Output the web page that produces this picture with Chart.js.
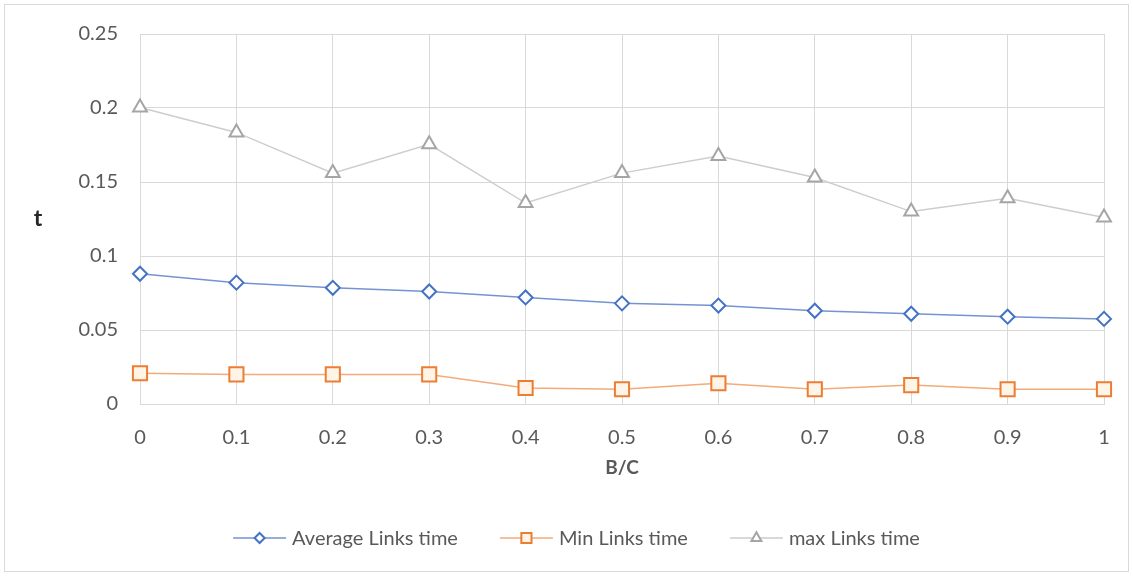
<!DOCTYPE html>
<html>
<head>
<meta charset="utf-8">
<script src="https://cdn.jsdelivr.net/npm/chart.js@4"></script>
<style>
  body { margin: 0; background: #fff; }
  #wrap { width: 1133px; height: 576px; position: relative; }
</style>
</head>
<body>
<div id="wrap"><canvas id="chart"></canvas></div>
<script>
const categories = ["0", "0.1", "0.2", "0.3", "0.4", "0.5", "0.6", "0.7", "0.8", "0.9", "1"];
const averageLinks = [0.088, 0.082, 0.0785, 0.076, 0.072, 0.068, 0.0665, 0.063, 0.061, 0.059, 0.0575];
const minLinks = [0.0208, 0.020, 0.020, 0.020, 0.0108, 0.010, 0.014, 0.010, 0.0128, 0.010, 0.010];
const maxLinks = [0.2003, 0.1835, 0.156, 0.1755, 0.1358, 0.156, 0.1675, 0.153, 0.130, 0.139, 0.126];
const yTicks = [0, 0.05, 0.1, 0.15, 0.2, 0.25];

const FONT = "Lato, 'Open Sans', sans-serif";
const TEXT = "#595959";
const GRID = "#d9d9d9";

const series = [
  { label: "Average Links time", data: averageLinks, color: "#4472c4", line: "#7593d0", fill: "#ffffff", style: "rectRot", radius: 7 },
  { label: "Min Links time", data: minLinks, color: "#ed7d31", line: "#f3ab7b", fill: "#fff4e8", style: "rect", radius: 10 },
  { label: "max Links time", data: maxLinks, color: "#a5a5a5", line: "#cdcdcd", fill: "#ffffff", style: "triangle", radius: 8 },
];

const drawMarker = (ctx, s, x, y, scale) => {
  const r = s.radius * scale;
  ctx.save();
  ctx.beginPath();
  if (s.style === "rectRot") {
    ctx.moveTo(x, y - r); ctx.lineTo(x + r, y); ctx.lineTo(x, y + r); ctx.lineTo(x - r, y);
  } else if (s.style === "rect") {
    const h = Math.SQRT1_2 * r;
    ctx.rect(x - h, y - h, 2 * h, 2 * h);
  } else {
    ctx.moveTo(x, y - r);
    ctx.lineTo(x + r * Math.cos(Math.PI / 6), y + r / 2);
    ctx.lineTo(x - r * Math.cos(Math.PI / 6), y + r / 2);
  }
  ctx.closePath();
  ctx.fillStyle = s.fill;
  ctx.fill();
  ctx.lineWidth = 2;
  ctx.strokeStyle = s.color;
  ctx.stroke();
  ctx.restore();
};

const frameAndLegend = {
  id: "frameAndLegend",
  beforeDraw(chart) {
    const { ctx, width, height } = chart;
    ctx.save();
    ctx.fillStyle = "#fff";
    ctx.fillRect(0, 0, width, height);
    ctx.strokeStyle = GRID;
    ctx.lineWidth = 1;
    ctx.strokeRect(4.5, 4.5, width - 9, height - 9);
    ctx.restore();
  },
  afterDraw(chart) {
    const { ctx, width, chartArea } = chart;
    ctx.save();
    // y-axis title, kept horizontal like the original
    ctx.font = "bold 23px " + FONT;
    ctx.fillStyle = "#262626";
    ctx.textAlign = "center";
    ctx.textBaseline = "middle";
    ctx.fillText("t", 38, (chartArea.top + chartArea.bottom) / 2);

    const lineW = 53, gapText = 6, gapItem = 42, y = 538;
    ctx.font = "20px " + FONT;
    ctx.textAlign = "left";
    const widths = series.map((s) => lineW + gapText + ctx.measureText(s.label).width);
    const total = widths.reduce((a, b) => a + b, 0) + gapItem * (series.length - 1);
    let x = (width - total) / 2 + 10;
    series.forEach((s, i) => {
      ctx.beginPath();
      ctx.moveTo(x, y); ctx.lineTo(x + lineW, y);
      ctx.strokeStyle = s.line; ctx.lineWidth = 1.5; ctx.stroke();
      drawMarker(ctx, s, x + lineW / 2, y, 0.72);
      ctx.fillStyle = TEXT;
      ctx.fillText(s.label, x + lineW + gapText, y + 1);
      x += widths[i] + gapItem;
    });
    ctx.restore();
  },
};

new Chart(document.getElementById("chart"), {
  type: "line",
  data: {
    labels: categories,
    datasets: series.map((s) => ({
      label: s.label,
      data: s.data,
      borderColor: s.line,
      borderWidth: 1.5,
      pointStyle: s.style,
      pointRadius: s.radius,
      pointBorderColor: s.color,
      pointBackgroundColor: s.fill,
      pointBorderWidth: 2,
      tension: 0,
    })),
  },
  options: {
    responsive: true,
    maintainAspectRatio: false,
    animation: false,
    layout: { padding: { left: 20, right: 29, top: 32, bottom: 92 } },
    plugins: { legend: { display: false }, tooltip: { enabled: false } },
    scales: {
      x: {
        type: "category",
        offset: false,
        grid: { color: GRID, drawTicks: false },
        border: { color: GRID },
        ticks: { color: TEXT, font: { family: FONT, size: 20 }, padding: 22, maxRotation: 0 },
        title: { display: true, text: "B/C", color: TEXT, font: { family: FONT, size: 19, weight: "bold" }, padding: 5 },
        afterFit: (scale) => { scale.height = 80; },
      },
      y: {
        min: 0,
        max: 0.25,
        afterBuildTicks: (scale) => { scale.ticks = yTicks.map((v) => ({ value: v })); },
        grid: { color: GRID, drawTicks: false },
        border: { display: false },
        ticks: { color: TEXT, font: { family: FONT, size: 20 }, padding: 22, callback: (v) => String(v) },
        afterFit: (scale) => { scale.width = 120; },
      },
    },
  },
  plugins: [frameAndLegend],
});
</script>
</body>
</html>
